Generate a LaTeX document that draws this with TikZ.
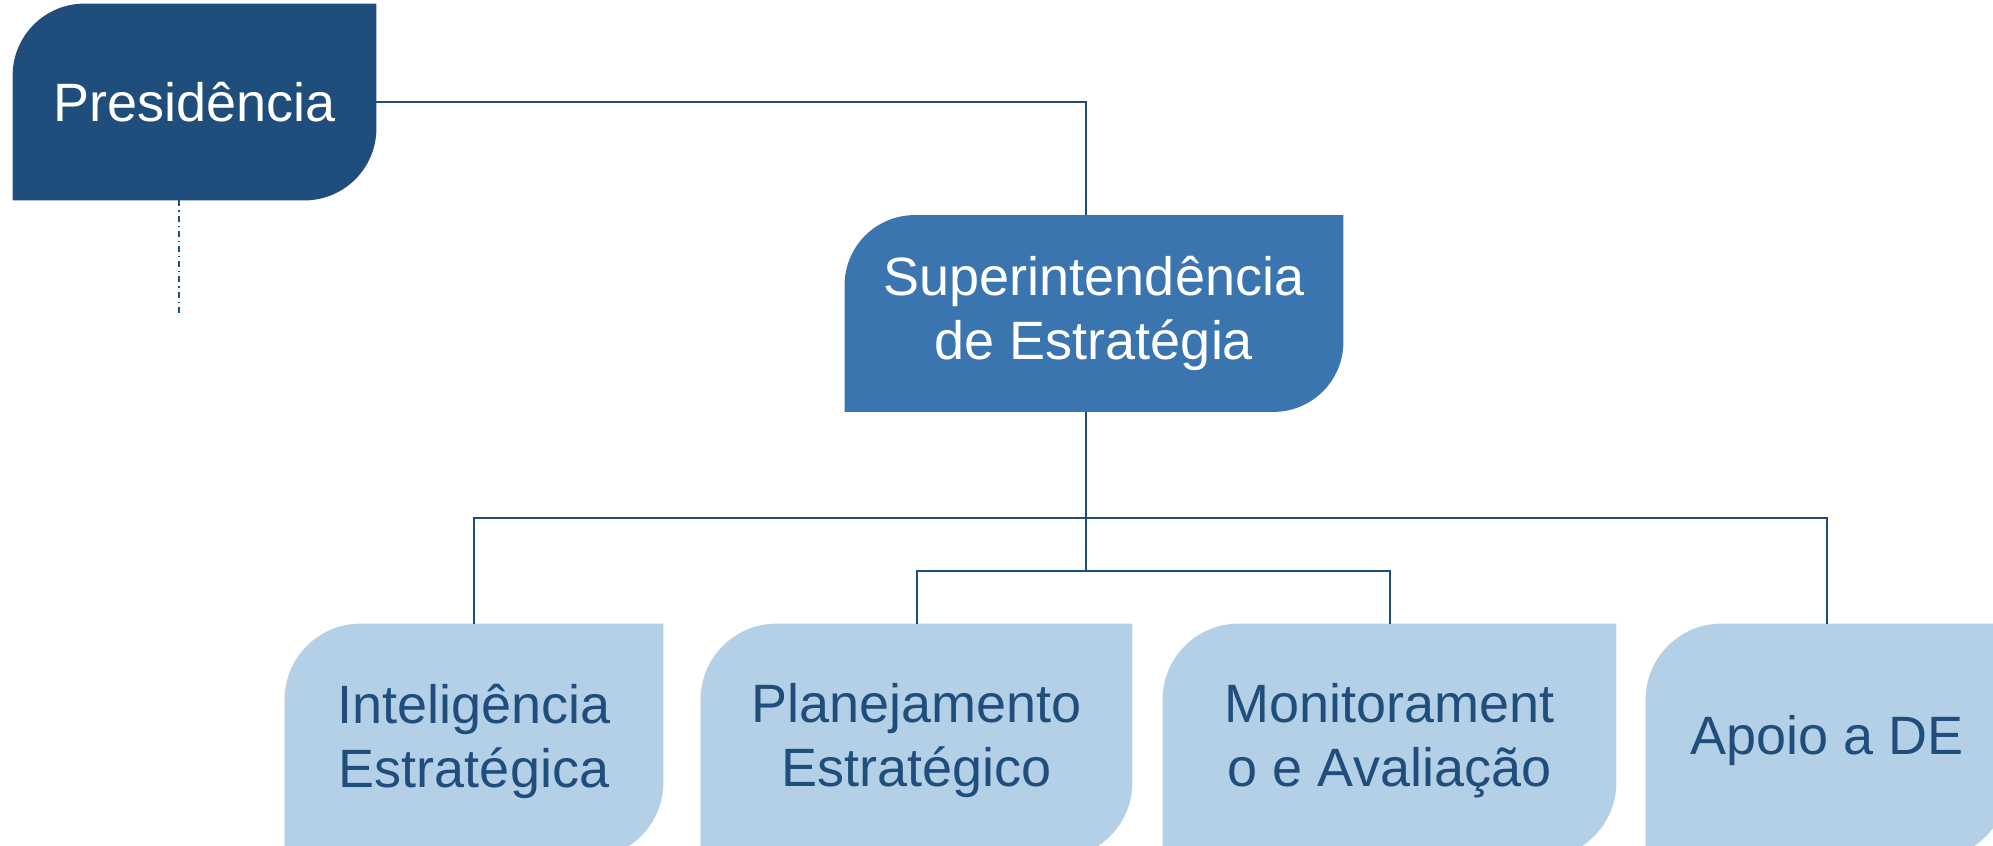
\documentclass[tikz,border=0pt]{standalone}
\usepackage{fontspec}
\setmainfont{Liberation Sans}
\usetikzlibrary{positioning,calc,backgrounds}
\definecolor{navy}{HTML}{1F4E7D}
\definecolor{midblue}{HTML}{3B75B0}
\definecolor{paleblue}{HTML}{B4D0E6}
\newcommand\leaf[3]{\fill[#2] (#1.south west) -- ([yshift=-#3]#1.north west)
  arc[start angle=180,end angle=90,radius=#3] -- (#1.north east)
  -- ([yshift=#3]#1.south east) arc[start angle=0,end angle=-90,radius=#3] -- cycle;}

\begin{document}
\begin{tikzpicture}[x=0.5pt,y=0.5pt,
    box/.style={inner sep=0pt,align=center,font=\fontsize{27}{32}\selectfont},
    top/.style={box,text=white,minimum height=98pt},
    unit/.style={box,text=navy,minimum height=117pt},
    link/.style={navy,line width=1pt}]
    \useasboundingbox (0,0) rectangle (1993,-846);
    \node[top,minimum width=181.5pt] (pres) at (194.5,-102) {Presidência};
    \node[top,minimum width=249pt] (sup) at (1094,-313.5) {Superintendência\\de Estratégia};
    \node[unit,minimum width=189pt] (intel) at (474,-741) {Inteligência\\Estratégica};
    \node[unit,minimum width=215.5pt] (plan) at (916.5,-741) {Planejamento\\Estratégico};
    \node[unit,minimum width=226.5pt] (monit) at (1389.5,-741) {Monitorament\\o e Avaliação};
    \node[unit,minimum width=181pt] (apoio) at (1827,-741) {Apoio a DE};
    \begin{scope}[on background layer]
        \leaf{pres}{navy}{36pt}
        \leaf{sup}{midblue}{35pt}
        \foreach \n in {intel,plan,monit,apoio}{
            \leaf{\n}{paleblue}{38pt}
        }
    \end{scope}
    \coordinate (bus) at (1086,-518);
    \coordinate (hub) at (1086,-571);
    \coordinate (tail) at (179,-313);
    \draw[link] (pres.east) -| ([xshift=-4pt]sup.north);
    \draw[link] ([xshift=-4pt]sup.south) -- (hub);
    \draw[link] (intel.north) |- (bus) -| (apoio.north);
    \draw[link] (plan.north) |- (hub) -| (monit.north);
    \draw[navy,line width=1pt,dash pattern=on 3pt off 2pt on 0.6pt off 2pt] (pres.south -| tail) -- (tail);
\end{tikzpicture}
\end{document}
